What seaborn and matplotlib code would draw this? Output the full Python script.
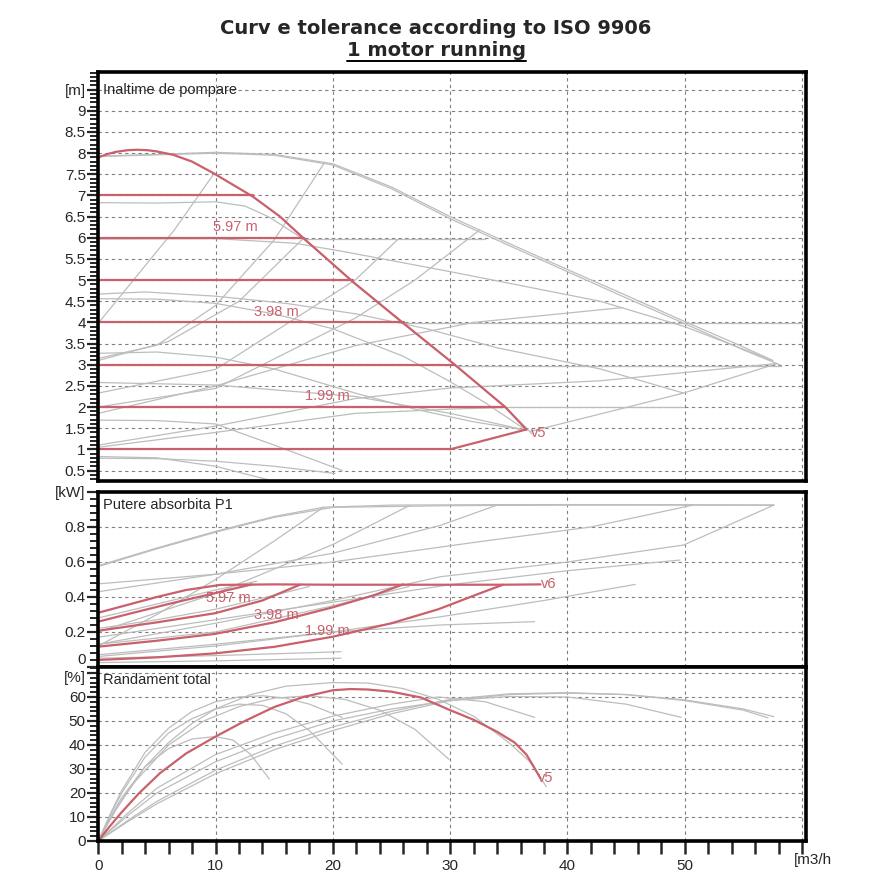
import numpy as np
import pandas as pd
import matplotlib
matplotlib.use('Agg')
import matplotlib.pyplot as plt
import seaborn as sns
from matplotlib.ticker import MultipleLocator, FixedLocator
from matplotlib.lines import Line2D

# ---------------- date ----------------
# inaltime de pompare [m] - curba rosie v5
head_red_q = [0, 0.8, 1.5, 2.5, 3.3, 4.2, 5, 6.4, 8, 9.8, 11.5, 13.2, 15.5, 17.5, 19.5, 21.7, 26.1, 30.4, 34.7, 36.5]
head_red_h = [7.9, 7.98, 8.03, 8.07, 8.08, 8.07, 8.04, 7.96, 7.8, 7.53, 7.25, 6.97, 6.5, 5.99, 5.5, 4.96, 3.96, 3.0, 2.0, 1.47]
head_close_q = [36.5, 30.0]
head_close_h = [1.47, 1.0]
# presiune constanta (linii rosii orizontale)
setpoint_h = [1, 2, 3, 4, 5, 6, 7]
setpoint_qend = [30.0, 34.7, 30.4, 26.1, 21.7, 17.5, 13.2]

head_grey_q = [
    [0, 5, 10, 15, 20, 25, 30, 35, 40, 45, 50, 55, 57.5],
    [0, 5, 10, 15, 20, 25, 30, 35, 40, 45, 50, 55, 58.1],
    [0, 5, 10, 12.5, 14.5, 17.6, 21.8, 26.2, 30.5, 34.8, 37.0],
    [0, 10, 16.8, 21, 30, 42.8, 50, 57.5],
    [17.5, 33.0],
    [26.1, 60.0],
    [30.4, 58.2],
    [34.7, 49.9],
    [36.8, 43, 49.9, 57.9],
    [0, 4, 10, 16, 22, 28, 34, 42.8, 49.9],
    [0, 5, 10, 15, 20, 26, 30, 33, 36.5],
    [0, 5, 10, 15, 21.9, 27, 32, 36.5],
    [0, 10, 21.9, 30, 36.5],
    [0, 5, 10, 15, 20.8],
    [0, 5, 10, 14.5],
    [0, 5, 10, 15, 20.2],
    [0, 3, 6.5, 9.9],
    [0, 5, 10, 15, 19.2],
    [0, 6, 12, 17.5],
    [0, 10, 21.9, 27, 32.5],
    [0, 10, 21.9, 25.5],
    [0, 10, 21.9, 32, 44.7],
    [0, 10, 21.9, 30, 42.8, 57.9],
    [0, 10, 21.9, 30, 34.7],
]
head_grey_h = [
    [7.93, 7.97, 8.02, 7.97, 7.75, 7.2, 6.5, 5.87, 5.25, 4.64, 4.02, 3.42, 3.1],
    [7.92, 7.96, 8.0, 7.95, 7.72, 7.16, 6.45, 5.82, 5.2, 4.58, 3.97, 3.35, 3.0],
    [6.83, 6.82, 6.85, 6.75, 6.5, 5.95, 4.95, 3.95, 2.97, 1.97, 1.36],
    [5.97, 5.98, 5.87, 5.67, 5.2, 4.5, 3.9, 3.1],
    [5.97, 5.97],
    [3.98, 3.98],
    [2.98, 2.98],
    [1.99, 1.99],
    [1.42, 1.85, 2.33, 3.03],
    [4.67, 4.72, 4.62, 4.45, 4.2, 3.85, 3.4, 2.9, 2.33],
    [4.56, 4.55, 4.45, 4.2, 3.85, 3.2, 2.6, 2.1, 1.45],
    [3.27, 3.3, 3.18, 2.9, 2.33, 1.95, 1.65, 1.45],
    [2.58, 2.52, 2.25, 1.85, 1.45],
    [1.69, 1.68, 1.6, 1.1, 0.5],
    [0.83, 0.8, 0.6, 0.28],
    [0.79, 0.78, 0.72, 0.6, 0.43],
    [3.98, 5.0, 6.19, 7.53],
    [3.15, 3.46, 4.4, 5.95, 7.74],
    [3.1, 3.55, 4.5, 5.99],
    [2.0, 2.44, 4.1, 5.0, 6.18],
    [2.33, 2.89, 5.0, 5.95],
    [1.85, 2.5, 3.45, 4.0, 4.35],
    [1.1, 1.55, 2.2, 2.45, 2.62, 3.03],
    [1.05, 1.4, 1.85, 1.95, 1.99],
]

# putere absorbita P1 [kW]
power_red_q = [
    [10.4, 15, 20, 25, 30, 34.5, 37.7],
    [0, 2.5, 5, 7.5, 10.4],
    [0, 3, 6, 9.5, 13.1],
    [0, 5, 9.95, 14, 17.2],
    [0, 5, 9.95, 15, 20, 23.5, 26],
    [0, 5, 10, 15, 20, 25, 29, 32.5, 34.5],
]
power_red_p = [
    [0.469, 0.472, 0.47, 0.47, 0.47, 0.47, 0.472],
    [0.31, 0.355, 0.40, 0.44, 0.469],
    [0.259, 0.31, 0.36, 0.415, 0.472],
    [0.207, 0.255, 0.307, 0.38, 0.47],
    [0.116, 0.15, 0.189, 0.255, 0.341, 0.41, 0.472],
    [0.04, 0.055, 0.078, 0.115, 0.173, 0.25, 0.33, 0.42, 0.47],
]
power_grey_q = [
    [0, 5, 10, 15, 19.2, 25, 35, 45, 57.6],
    [0, 5, 10, 15, 20, 30, 40, 50, 57.6],
    [0, 5, 10, 15, 19.2],
    [0, 10, 20, 26.6],
    [0, 10, 20, 29.2, 34],
    [0, 10, 20, 32.5, 42, 50.7],
    [0, 10, 20, 29.2, 40, 49.9, 57.6],
    [0, 10, 20, 30, 40, 49.6],
    [0, 10, 20, 29.2, 38, 45.8],
    [0, 10, 20, 29.2, 37.2],
    [0, 10, 20.7],
    [0, 10, 20.7],
    [0, 5, 10, 13.5],
    [0, 5, 10, 15, 18],
    [0, 10, 20, 26.5],
]
power_grey_p = [
    [0.579, 0.68, 0.775, 0.86, 0.913, 0.925, 0.928, 0.928, 0.926],
    [0.574, 0.675, 0.77, 0.855, 0.912, 0.922, 0.925, 0.925, 0.924],
    [0.12, 0.3, 0.5, 0.72, 0.913],
    [0.2, 0.42, 0.7, 0.925],
    [0.43, 0.53, 0.65, 0.81, 0.925],
    [0.475, 0.53, 0.6, 0.716, 0.8, 0.925],
    [0.13, 0.25, 0.38, 0.516, 0.6, 0.697, 0.925],
    [0.17, 0.27, 0.37, 0.47, 0.55, 0.611],
    [0.07, 0.13, 0.2, 0.287, 0.38, 0.472],
    [0.06, 0.12, 0.2, 0.24, 0.259],
    [0.05, 0.065, 0.087],
    [0.025, 0.035, 0.05],
    [0.28, 0.36, 0.44, 0.49],
    [0.22, 0.27, 0.33, 0.41, 0.46],
    [0.13, 0.2, 0.35, 0.46],
]

# randament total [%]
eff_red_q = [0, 1, 2, 3.5, 5.25, 7.5, 10, 12.5, 15, 17.5, 20, 21.5, 23, 25, 27.5, 30, 32, 34, 35.5, 36.5, 37, 37.7]
eff_red_e = [0, 6.2, 12, 20, 28.2, 36.5, 43.5, 50, 55.8, 60, 62.8, 63.3, 63.1, 62.2, 59.8, 54.5, 50.5, 45.5, 41, 36, 32, 26.1]
eff_grey_q = [
    [0, 1, 2, 4, 6, 8, 10, 13, 16, 20, 23, 26, 29, 32, 35, 36.8, 38.2],
    [0, 2.5, 5, 10, 15, 20, 25, 30, 35, 40, 45, 50, 55, 57.6],
    [0, 2.5, 5, 10, 15, 20, 25, 30, 35, 40, 45, 50, 55, 57.1],
    [0, 2.5, 5, 10, 15, 20, 25, 30, 35, 40, 45, 49.7],
    [0, 2.5, 5, 10, 15, 20, 25, 29, 33, 37.2],
    [0, 1.5, 3, 6, 9, 12, 15, 18, 21, 24, 27, 29.9],
    [0, 1, 2, 4, 6, 8, 10, 11.5, 13, 14.6],
    [0, 1, 2, 4, 6, 8, 10, 12, 14, 16, 18, 20.8],
    [0, 1, 2, 4, 6, 8, 10, 12, 14, 16, 18, 20.8],
]
eff_grey_e = [
    [0, 9, 17, 31, 41, 49, 55, 61, 64.5, 66, 65.8, 63.5, 59, 52, 41, 33, 22.6],
    [0, 8, 15.5, 28, 38, 46, 53, 58.5, 61, 61.6, 61, 58.8, 55, 51.8],
    [0, 8.5, 16.5, 29.5, 39.5, 47.5, 54, 59, 61.3, 61.8, 61, 58.5, 54.5, 51.3],
    [0, 10.5, 20, 33, 42.5, 50, 55, 58.5, 60.2, 60, 57, 51.5],
    [0, 11.5, 22, 36, 45, 52, 57, 60, 58, 51.5],
    [0, 13, 24, 40, 50, 56, 59.5, 60.5, 59, 54.5, 46.5, 34],
    [0, 9.5, 18, 31, 38.5, 42.5, 43.5, 42, 36, 25.7],
    [0, 11, 21, 37, 47, 54, 58, 60, 60.5, 59.5, 57, 51.5],
    [0, 10.5, 20, 35, 45, 51, 55, 57, 56.5, 53, 46, 32],
]

RED = '#c9606b'
GREY = '#bdbdbd'

sns.set_style('white')
plt.rcParams['font.family'] = ['Liberation Sans', 'DejaVu Sans']


def curves(qs, vs):
    parts = [pd.DataFrame({'q': q, 'v': v, 'curve': i}) for i, (q, v) in enumerate(zip(qs, vs))]
    return pd.concat(parts, ignore_index=True)


def draw(ax, qs, vs, color, lw):
    sns.lineplot(data=curves(qs, vs), x='q', y='v', units='curve', estimator=None,
                 sort=False, color=color, lw=lw, ax=ax, legend=False)


fig = plt.figure(figsize=(8.9, 8.9), dpi=100)
L, W = 0.1104, 0.7947
ax1 = fig.add_axes([L, 0.4596, W, 0.4596])
ax2 = fig.add_axes([L, 0.2506, W, 0.1966])
ax3 = fig.add_axes([L, 0.0551, W, 0.1955])

# inaltime
draw(ax1, head_grey_q, head_grey_h, GREY, 0.9)
draw(ax1, [[0, q] for q in setpoint_qend], [[h, h] for h in setpoint_h], RED, 1.6)
draw(ax1, [head_red_q, head_close_q], [head_red_h, head_close_h], RED, 1.6)
ax1.text(11.7, 6.25, '5.97 m', color=RED, fontsize=10.5, ha='center', va='center')
ax1.text(15.2, 4.25, '3.98 m', color=RED, fontsize=10.5, ha='center', va='center')
ax1.text(19.5, 2.26, '1.99 m', color=RED, fontsize=10.5, ha='center', va='center')
ax1.text(36.9, 1.38, 'v5', color=RED, fontsize=10.5, ha='left', va='center')

# putere
draw(ax2, power_grey_q, power_grey_p, GREY, 0.9)
draw(ax2, power_red_q, power_red_p, RED, 1.6)
ax2.text(11.1, 0.394, '5.97 m', color=RED, fontsize=10.5, ha='center', va='center')
ax2.text(15.2, 0.297, '3.98 m', color=RED, fontsize=10.5, ha='center', va='center')
ax2.text(19.5, 0.206, '1.99 m', color=RED, fontsize=10.5, ha='center', va='center')
ax2.text(37.7, 0.474, 'v6', color=RED, fontsize=10.5, ha='left', va='center')

# randament
draw(ax3, eff_grey_q, eff_grey_e, GREY, 0.9)
draw(ax3, [eff_red_q], [eff_red_e], RED, 1.6)
ax3.text(37.5, 26.1, 'v5', color=RED, fontsize=10.5, ha='left', va='center')

panels = [
    (ax1, (0.253, 9.92), list(np.arange(0.5, 9.01, 0.5)) + [9.5], 0.1, 'Inaltime de pompare', '[m]'),
    (ax2, (0, 1.0), [0, 0.2, 0.4, 0.6, 0.8, 1.0], 0.04, 'Putere absorbita P1', '[kW]'),
    (ax3, (0, 72.5), [0, 10, 20, 30, 40, 50, 60, 70], 2, 'Randament total', ''),
]
for ax, ylim, yt, minor, name, unit in panels:
    ax.set_xlim(0, 60.3)
    ax.set_ylim(*ylim)
    ax.yaxis.set_major_locator(FixedLocator(yt))
    labels = [('%g' % v) for v in yt[:-1]] + [unit]
    ax.set_yticklabels(labels)
    ax.yaxis.set_minor_locator(MultipleLocator(minor))
    ax.xaxis.set_major_locator(MultipleLocator(10))
    ax.xaxis.set_minor_locator(MultipleLocator(2))
    ax.grid(True, which='major', color='#7f7f7f', linestyle=(0, (3, 3)), linewidth=0.8)
    ax.set_axisbelow(True)
    ax.tick_params(axis='y', which='major', direction='out', length=8, width=1.6,
                   labelsize=11, pad=1, left=True)
    ax.tick_params(axis='y', which='minor', direction='out', length=6, width=1.4, left=True)
    for s in ax.spines.values():
        s.set_linewidth(2.6)
        s.set_color('black')
    ax.set_xlabel('')
    ax.set_ylabel('')
    ax.text(0.007, 0.972 if ax is ax1 else 0.965, name, transform=ax.transAxes, fontsize=10.5,
            ha='left', va='top')

# "0" de jos al panoului de putere putin ridicat, iar [%] sub linia de 70
ax2.get_yticklabels()[0].set_verticalalignment('bottom')
ax3.annotate('[%]', xy=(0, 67.8), xycoords=('axes fraction', 'data'), xytext=(-9, 0),
             textcoords='offset points', ha='right', va='center', fontsize=11)

for ax in (ax1, ax2):
    ax.tick_params(axis='x', which='both', length=0, labelbottom=False)

ax3.tick_params(axis='x', which='major', direction='out', length=9, width=1.8, labelsize=11,
                pad=4, bottom=True)
ax3.tick_params(axis='x', which='minor', direction='out', length=9, width=1.8, bottom=True)
ax3.set_xticks([0, 10, 20, 30, 40, 50, 60])
ax3.set_xticklabels(['0', '10', '20', '30', '40', '50', ''])
ax3.annotate('[m3/h', xy=(60, 0), xycoords=('data', 'axes fraction'), xytext=(8, -8.5),
             textcoords='offset points', ha='center', va='top', fontsize=11)

fig.text(0.49, 0.968, 'Curv e tolerance according to ISO 9906', ha='center', va='center',
         fontsize=14, fontweight='bold', family='DejaVu Sans')
sub = fig.text(0.49, 0.943, '1 motor running', ha='center', va='center',
               fontsize=14, fontweight='bold', family='DejaVu Sans')
fig.canvas.draw()
bb = sub.get_window_extent().transformed(fig.transFigure.inverted())
fig.add_artist(Line2D([bb.x0, bb.x1], [bb.y0 - 0.001, bb.y0 - 0.001], color='black', lw=1.4,
                      transform=fig.transFigure))

fig.savefig('out.png', dpi=100)
